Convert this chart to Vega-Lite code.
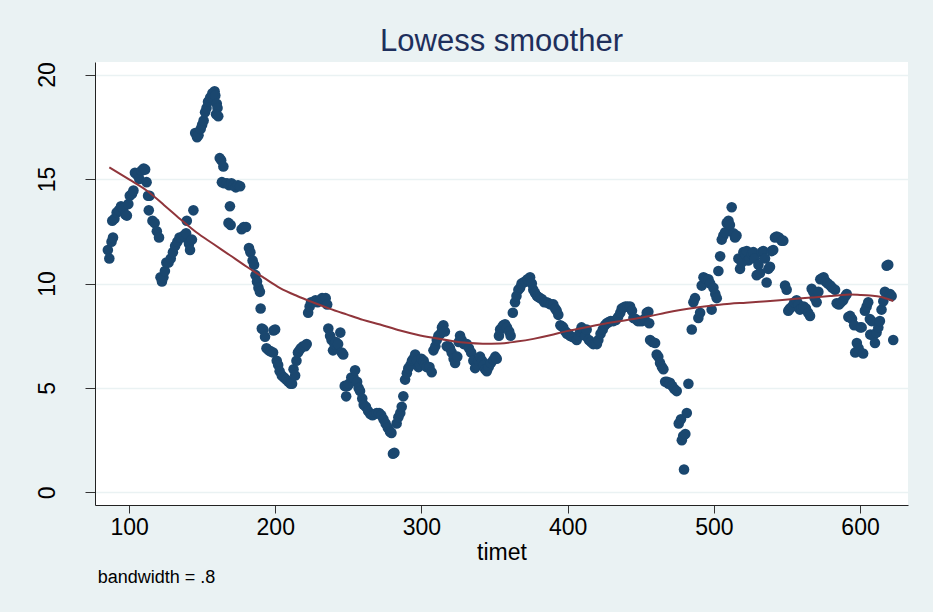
{
"$schema": "https://vega.github.io/schema/vega-lite/v6.json",
"width": 813, "height": 443,
"autosize": {"type": "none"},
"padding": {"left": 95, "top": 62, "right": 25, "bottom": 107},
"background": "#EAF2F3",
"config": {"view": {"fill": "white", "stroke": null}, "font": "Liberation Sans"},
"title": {"text": "Lowess smoother", "fontSize": 31, "font": "Liberation Sans", "fontWeight": "normal", "color": "#1E2F5C", "anchor": "middle", "frame": "group", "offset": 4},
"datasets": {
"pts": [
{"t":85.5,"v":11.6},{"t":86.5,"v":11.2},{"t":88,"v":12.0},{"t":89,"v":12.2},{"t":88.5,"v":13.0},{"t":90,"v":13.1},{"t":91.5,"v":13.4},{"t":93,"v":13.5},{"t":94.5,"v":13.7},{"t":96,"v":13.6},{"t":97.5,"v":13.3},{"t":98.5,"v":13.25},{"t":99.5,"v":13.8},{"t":100.5,"v":14.2},{"t":102,"v":14.3},{"t":103,"v":14.45},{"t":104,"v":15.3},{"t":105.5,"v":15.2},{"t":107,"v":15.0},{"t":108.5,"v":15.4},{"t":110,"v":15.5},{"t":111,"v":15.45},{"t":112,"v":14.85},{"t":113,"v":14.2},{"t":114,"v":14.2},{"t":113.5,"v":13.5},{"t":116,"v":13.0},{"t":117.5,"v":12.9},{"t":119,"v":12.5},{"t":120.5,"v":12.2},{"t":121.5,"v":10.3},{"t":122.5,"v":10.1},{"t":123.5,"v":10.3},{"t":124.5,"v":10.6},{"t":125.5,"v":11.0},{"t":127,"v":11.0},{"t":128.5,"v":11.2},{"t":130,"v":11.5},{"t":131.5,"v":11.8},{"t":133,"v":12.0},{"t":134.5,"v":12.2},{"t":136,"v":12.2},{"t":137.5,"v":12.3},{"t":139,"v":12.4},{"t":139.5,"v":13.0},{"t":141,"v":11.9},{"t":141.7,"v":11.6},{"t":143,"v":12.1},{"t":144,"v":13.5},
{"t":145.2,"v":17.2},{"t":146.5,"v":17.0},{"t":147.5,"v":17.1},{"t":149,"v":17.4},{"t":150,"v":17.6},{"t":151,"v":17.8},{"t":152,"v":18.2},{"t":153,"v":18.4},{"t":154,"v":18.7},{"t":155.5,"v":18.9},{"t":157,"v":19.1},{"t":158.5,"v":19.2},{"t":159,"v":19.0},{"t":160,"v":18.6},{"t":160.5,"v":18.4},{"t":159.5,"v":18.1},{"t":161,"v":18.0},{"t":162,"v":16.0},{"t":163,"v":15.9},{"t":164.5,"v":15.6},{"t":163.5,"v":14.85},{"t":165,"v":14.8},{"t":167,"v":14.8},{"t":168.5,"v":14.7},{"t":170,"v":14.8},{"t":171.5,"v":14.7},{"t":173,"v":14.6},{"t":174.5,"v":14.7},{"t":176,"v":14.65},{"t":169,"v":13.7},{"t":168,"v":12.9},{"t":169.5,"v":12.8},{"t":177,"v":12.6},{"t":178.5,"v":12.7},{"t":180,"v":12.7},{"t":182,"v":11.7},{"t":183,"v":11.5},{"t":184.5,"v":11.1},{"t":185.5,"v":10.9},{"t":186.5,"v":10.4},{"t":187.5,"v":10.1},{"t":188.5,"v":9.8},{"t":189.5,"v":9.6},{"t":190,"v":8.8},{"t":190.8,"v":7.85},{"t":191.8,"v":7.8},{"t":193,"v":7.45},{"t":194,"v":6.9},{"t":195.5,"v":6.8},{"t":197,"v":6.75},{"t":198.5,"v":6.7},{"t":198.8,"v":7.75},{"t":199.9,"v":7.8},
{"t":201,"v":6.3},{"t":202,"v":6.1},{"t":203,"v":5.8},{"t":204.5,"v":5.6},{"t":206,"v":5.5},{"t":207.5,"v":5.4},{"t":209,"v":5.3},{"t":210.5,"v":5.2},{"t":211.5,"v":5.2},{"t":212.5,"v":5.9},{"t":213.6,"v":5.6},{"t":214.5,"v":6.3},{"t":215.5,"v":6.7},{"t":216.5,"v":6.8},{"t":217.5,"v":6.9},{"t":219,"v":7.0},{"t":220.5,"v":7.0},{"t":221.5,"v":7.1},{"t":222.5,"v":8.6},{"t":223.5,"v":8.9},{"t":224.5,"v":9.1},{"t":226,"v":9.1},{"t":227.5,"v":9.2},{"t":229,"v":9.1},{"t":230.5,"v":9.2},{"t":232,"v":9.3},{"t":233.5,"v":9.25},{"t":234.5,"v":9.3},{"t":235.5,"v":9.0},{"t":236.3,"v":7.85},{"t":237.5,"v":7.5},{"t":238.5,"v":7.3},{"t":239.5,"v":6.8},{"t":240.5,"v":7.1},{"t":241.5,"v":7.2},{"t":243,"v":7.1},{"t":244.5,"v":7.65},{"t":245.5,"v":6.7},{"t":246.5,"v":6.6},{"t":247.5,"v":5.1},{"t":248.5,"v":4.6},{"t":249.5,"v":5.1},{"t":250.5,"v":5.2},{"t":252,"v":5.5},{"t":253.5,"v":5.5},{"t":254.6,"v":5.85},{"t":256,"v":5.3},{"t":257,"v":5.0},{"t":258,"v":4.85},{"t":259.5,"v":4.5},{"t":260.5,"v":4.2},{"t":262,"v":4.1},{"t":263.5,"v":3.9},{"t":265,"v":3.75},{"t":266.5,"v":3.7},{"t":268,"v":3.75},{"t":269.5,"v":3.8},{"t":271,"v":3.8},{"t":272.5,"v":3.7},{"t":274,"v":3.5},{"t":275.5,"v":3.3},{"t":277,"v":3.1},{"t":278.5,"v":2.9},{"t":279.5,"v":2.85},{"t":280.5,"v":1.85},{"t":281.5,"v":1.9},{"t":283,"v":3.3},{"t":284.2,"v":3.6},{"t":285.5,"v":3.8},{"t":286.5,"v":4.1},{"t":287.6,"v":4.6},{"t":288.8,"v":5.4},{"t":290,"v":5.7},{"t":291,"v":5.95},{"t":292.5,"v":6.1},{"t":293.5,"v":6.3},{"t":294.5,"v":6.4},{"t":295.7,"v":6.6},{"t":297,"v":6.3},{"t":298,"v":6.0},{"t":299,"v":6.1},
{"t":300,"v":6.4},{"t":301.5,"v":6.3},{"t":302.5,"v":6.1},{"t":303.6,"v":6.0},{"t":305.5,"v":6.0},{"t":307,"v":5.75},{"t":308.2,"v":6.8},{"t":309.5,"v":7.0},{"t":310.5,"v":7.3},{"t":311.6,"v":7.5},{"t":313,"v":7.6},{"t":314,"v":7.9},{"t":315,"v":8.0},{"t":316,"v":7.7},{"t":317.3,"v":7.0},{"t":318.5,"v":7.0},{"t":319.5,"v":6.9},{"t":320.7,"v":6.7},{"t":322,"v":6.4},{"t":323,"v":6.2},{"t":324.5,"v":6.5},{"t":325.5,"v":7.2},{"t":326.4,"v":7.5},{"t":327.5,"v":7.3},{"t":329,"v":7.1},{"t":330,"v":7.1},{"t":331,"v":7.1},{"t":332.5,"v":6.9},{"t":334,"v":6.7},{"t":335.5,"v":6.3},{"t":336.7,"v":5.95},{"t":338,"v":6.1},{"t":339,"v":6.3},{"t":340.1,"v":6.5},{"t":341.5,"v":6.3},{"t":342.5,"v":6.1},{"t":343.5,"v":5.9},{"t":344.7,"v":5.8},{"t":346,"v":6.0},{"t":347.5,"v":6.2},{"t":349.3,"v":6.35},{"t":350.5,"v":6.5},{"t":351.5,"v":6.4},{"t":353,"v":7.5},{"t":353.8,"v":7.8},{"t":355,"v":7.9},{"t":356,"v":8.0},{"t":357.2,"v":8.05},{"t":358.5,"v":7.9},{"t":360,"v":7.7},{"t":361,"v":7.5},{"t":362.5,"v":8.6},{"t":364,"v":9.1},{"t":365,"v":9.4},{"t":366.3,"v":9.7},{"t":367.5,"v":9.8},{"t":368.5,"v":10.0},{"t":369.7,"v":10.05},{"t":371,"v":10.1},{"t":372.5,"v":10.2},{"t":374.3,"v":10.3},{"t":375.5,"v":10.0},{"t":376.5,"v":9.7},{"t":377.7,"v":9.55},{"t":379,"v":9.4},{"t":380,"v":9.35},{"t":381.1,"v":9.3},{"t":382.5,"v":9.25},{"t":384,"v":9.1},{"t":385.7,"v":9.1},{"t":387,"v":9.05},{"t":388.5,"v":9.0},{"t":390.2,"v":9.0},{"t":391.5,"v":8.8},{"t":392.5,"v":8.7},{"t":393.6,"v":8.5},{"t":395,"v":8.0},{"t":396,"v":7.95},{"t":397,"v":7.9},{"t":398.5,"v":7.7},{"t":399.5,"v":7.6},
{"t":400.4,"v":7.6},{"t":401.6,"v":7.5},{"t":403,"v":7.45},{"t":404.5,"v":7.4},{"t":406.2,"v":7.3},{"t":407.5,"v":7.5},{"t":408.5,"v":7.7},{"t":409.5,"v":7.9},{"t":410.7,"v":7.8},{"t":412,"v":7.5},{"t":413,"v":7.8},{"t":414.5,"v":7.3},{"t":416,"v":7.2},{"t":417.5,"v":7.1},{"t":419,"v":7.15},{"t":420,"v":7.1},{"t":421,"v":7.3},{"t":422.5,"v":7.6},{"t":424,"v":7.8},{"t":425.5,"v":8.0},{"t":426.7,"v":8.1},{"t":428,"v":8.15},{"t":429.5,"v":8.2},{"t":431.3,"v":8.2},{"t":433,"v":8.25},{"t":434.5,"v":8.4},{"t":436,"v":8.6},{"t":437,"v":8.8},{"t":438.2,"v":8.85},{"t":439.5,"v":8.9},{"t":441,"v":8.9},{"t":442.7,"v":8.9},{"t":444,"v":8.7},{"t":445,"v":8.35},{"t":446.5,"v":8.3},{"t":448,"v":8.2},{"t":449.5,"v":8.2},{"t":451,"v":8.2},{"t":452.5,"v":8.3},{"t":454.1,"v":8.6},{"t":455.2,"v":8.65},{"t":455.8,"v":8.1},{"t":456.4,"v":7.3},{"t":458,"v":7.2},{"t":459.8,"v":7.15},{"t":460.9,"v":6.6},{"t":462,"v":6.5},{"t":463.2,"v":6.2},{"t":464.5,"v":6.0},{"t":465.5,"v":5.9},{"t":466.7,"v":5.3},{"t":468,"v":5.3},{"t":469,"v":5.2},{"t":470,"v":5.25},{"t":471.5,"v":5.1},{"t":473,"v":4.95},{"t":474.6,"v":4.85},{"t":476,"v":3.3},{"t":477.5,"v":3.5},{"t":478.1,"v":2.5},{"t":479,"v":2.7},{"t":479.6,"v":1.1},{"t":480.5,"v":2.8},{"t":481.5,"v":3.8},{"t":482.6,"v":5.2},{"t":484.9,"v":7.8},{"t":486,"v":9.1},{"t":487.1,"v":9.3},{"t":489.4,"v":8.35},{"t":490.6,"v":8.6},{"t":491.7,"v":9.9},{"t":492.9,"v":10.3},{"t":494,"v":10.25},{"t":495.2,"v":10.2},{"t":496.3,"v":10.2},{"t":497.5,"v":10.0},{"t":498.5,"v":8.75},{"t":499.7,"v":9.8},
{"t":501,"v":9.5},{"t":502,"v":9.3},{"t":503.1,"v":10.6},{"t":504.3,"v":11.3},{"t":505.4,"v":12.1},{"t":506.5,"v":12.3},{"t":507.7,"v":12.45},{"t":508.8,"v":12.9},{"t":510,"v":13.0},{"t":511,"v":12.8},{"t":512.2,"v":13.65},{"t":513.4,"v":12.4},{"t":514.5,"v":12.2},{"t":515.5,"v":12.3},{"t":516.8,"v":11.2},{"t":517.9,"v":10.7},{"t":519,"v":11.0},{"t":520.2,"v":11.5},{"t":521.5,"v":11.4},{"t":522.5,"v":11.55},{"t":523.5,"v":11.1},{"t":524.7,"v":11.2},{"t":526,"v":11.4},{"t":527,"v":11.5},{"t":528,"v":11.2},{"t":529.3,"v":10.4},{"t":530.5,"v":10.9},{"t":531.6,"v":10.5},{"t":532.7,"v":11.5},{"t":533.8,"v":11.55},{"t":535,"v":11.2},{"t":536.1,"v":10.05},{"t":537.3,"v":10.7},{"t":538.4,"v":10.8},{"t":539.5,"v":11.55},{"t":540.6,"v":11.6},{"t":541.8,"v":12.2},{"t":543,"v":12.25},{"t":544.5,"v":12.2},{"t":546.4,"v":12.05},{"t":547.5,"v":12.05},{"t":548.7,"v":9.9},{"t":549.8,"v":9.7},{"t":550.9,"v":8.7},{"t":552,"v":8.8},{"t":553.5,"v":8.9},{"t":555,"v":9.1},{"t":556.6,"v":9.2},{"t":558,"v":9.0},{"t":558.9,"v":8.75},{"t":560,"v":8.8},{"t":561.5,"v":8.9},{"t":563,"v":8.8},{"t":564.5,"v":8.6},{"t":565.8,"v":8.45},{"t":566.9,"v":9.75},{"t":568,"v":9.6},{"t":569,"v":9.3},{"t":570.3,"v":9.1},{"t":571.5,"v":9.6},{"t":572.8,"v":10.2},{"t":574,"v":10.25},{"t":575.1,"v":10.3},{"t":576.5,"v":10.1},{"t":578,"v":10.0},{"t":579.7,"v":9.9},{"t":581,"v":9.8},{"t":582.9,"v":9.7},{"t":584,"v":9.05},{"t":585.5,"v":9.0},{"t":587,"v":9.1},{"t":588.5,"v":9.2},{"t":590,"v":9.4},{"t":590.9,"v":9.5},{"t":592,"v":8.4},{"t":593.2,"v":8.45},{"t":594.5,"v":8.3},{"t":596,"v":8.0},{"t":596.7,"v":6.7},{"t":597.8,"v":7.15},{"t":599,"v":6.9},{"t":600,"v":7.9},{"t":601.1,"v":7.9},{"t":602.1,"v":6.65},{"t":603.3,"v":8.7},{"t":604.5,"v":8.9},{"t":605.6,"v":9.1},{"t":606.7,"v":8.3},{"t":607,"v":7.56},{"t":607.9,"v":8.2},{"t":609,"v":7.5},{"t":610.2,"v":7.15},{"t":611.3,"v":7.65},{"t":612.5,"v":7.9},{"t":613.6,"v":8.2},{"t":614.7,"v":8.75},{"t":615.9,"v":9.15},{"t":617,"v":9.6},{"t":618.2,"v":10.85},{"t":619.3,"v":10.9},{"t":620.5,"v":9.5},{"t":621.6,"v":9.4},{"t":622.7,"v":7.3}
],
"fit": [
{"t":86.5,"v":15.56},{"t":100,"v":14.98},{"t":112,"v":14.45},{"t":124,"v":13.75},{"t":134.9,"v":13.09},{"t":146,"v":12.45},{"t":157.7,"v":11.89},{"t":169,"v":11.35},{"t":180.5,"v":10.8},{"t":192,"v":10.28},{"t":203.3,"v":9.78},{"t":215,"v":9.4},{"t":226,"v":9.09},{"t":237,"v":8.8},{"t":248.8,"v":8.52},{"t":260,"v":8.26},{"t":271.7,"v":8.04},{"t":285.4,"v":7.75},{"t":297,"v":7.55},{"t":308,"v":7.4},{"t":320,"v":7.26},{"t":330.9,"v":7.16},{"t":342,"v":7.12},{"t":353.8,"v":7.13},{"t":365,"v":7.22},{"t":376.6,"v":7.35},{"t":388,"v":7.52},{"t":399.4,"v":7.72},{"t":411,"v":7.88},{"t":422.2,"v":8.04},{"t":433,"v":8.17},{"t":445,"v":8.3},{"t":456.4,"v":8.44},{"t":467,"v":8.6},{"t":477,"v":8.73},{"t":488.3,"v":8.85},{"t":500,"v":8.95},{"t":511,"v":9.03},{"t":522,"v":9.08},{"t":533.8,"v":9.14},{"t":545,"v":9.2},{"t":556,"v":9.27},{"t":567,"v":9.33},{"t":579.5,"v":9.4},{"t":586,"v":9.44},{"t":593.2,"v":9.47},{"t":600,"v":9.45},{"t":607,"v":9.42},{"t":613.7,"v":9.37},{"t":618,"v":9.28},{"t":622.8,"v":9.16}
],
"note": [{"label": "bandwidth = .8"}]
},
"layer": [
{
"data": {"name": "pts"},
"mark": {"type": "circle", "size": 112, "opacity": 1, "color": "#1A476F"},
"encoding": {
"x": {"field": "t", "type": "quantitative", "scale": {"domain": [76.7, 632.8], "nice": false, "zero": false},
"axis": {"values": [100, 200, 300, 400, 500, 600], "title": "timet", "titleFontSize": 23, "titleFontWeight": "normal", "titleColor": "black", "titlePadding": 2, "labelFontSize": 23, "labelColor": "black", "labelPadding": 3, "tickSize": 8, "tickColor": "#333333", "domainColor": "#222222", "grid": false, "labelFlush": false}},
"y": {"field": "v", "type": "quantitative", "scale": {"domain": [-0.6, 20.6], "nice": false, "zero": false},
"axis": {"values": [0, 5, 10, 15, 20], "title": null, "labelFontSize": 23, "labelColor": "black", "labelAngle": 270, "labelAlign": "center", "labelBaseline": "alphabetic", "labelPadding": 31, "tickSize": 10, "tickColor": "#333333", "domainColor": "#222222", "grid": true, "gridColor": "#EAF2F3", "gridWidth": 1.5, "labelFlush": false}}
}
},
{
"data": {"name": "fit"},
"mark": {"type": "line", "color": "#90353B", "strokeWidth": 2, "interpolate": "monotone"},
"encoding": {
"x": {"field": "t", "type": "quantitative"},
"y": {"field": "v", "type": "quantitative"}
}
},
{
"data": {"name": "note"},
"mark": {"type": "text", "align": "left", "baseline": "middle", "fontSize": 18, "color": "black", "clip": false},
"encoding": {
"x": {"datum": 78.5},
"y": {"datum": -4.1},
"text": {"field": "label"}
}
}
]
}
